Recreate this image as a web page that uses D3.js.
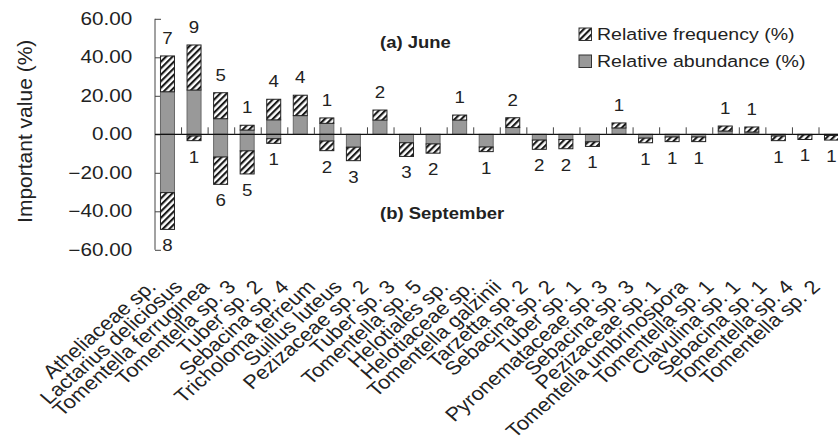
<!DOCTYPE html>
<html>
<head>
<meta charset="utf-8">
<script src="https://d3js.org/d3.v7.min.js"></script>
<style>
  body { margin: 0; background: #fff; }
  svg text { font-family: "Liberation Sans", Arial, sans-serif; fill: #222; }
</style>
</head>
<body>
<svg id="chart" width="838" height="447"></svg>
<script>
// species in plotting order
const species = ["Atheliaceae sp.", "Lactarius deliciosus", "Tomentella ferruginea", "Tomentella sp. 3",
  "Tuber sp. 2", "Sebacina sp. 4", "Tricholoma terreum", "Suillus luteus", "Pezizaceae sp. 2", "Tuber sp. 3",
  "Tomentella sp. 5", "Helotiales sp.", "Helotiaceae sp.", "Tomentella galzinii", "Tarzetta sp. 2",
  "Sebacina sp. 2", "Tuber sp. 1", "Pyronemataceae sp. 3", "Sebacina sp. 3", "Pezizaceae sp. 1",
  "Tomentella umbrinospora", "Tomentella sp. 1", "Clavulina sp. 1", "Sebacina sp. 1", "Tomentella sp. 4",
  "Tomentella sp. 2"];

// (a) June, drawn upward
const juneAbund = [22.1, 23.0, 8.1, 2.2, 7.5, 9.7, 5.7, 0, 7.4, 0, 0, 7.4, 0, 3.5, 0, 0, 0, 3.3, 0, 0, 0, 1.7, 1.2, 0, 0, 0];
const juneFreq = [18.6, 23.4, 13.5, 2.5, 10.7, 10.6, 2.8, 0, 5.2, 0, 0, 2.6, 0, 5.1, 0, 0, 0, 2.6, 0, 0, 0, 2.6, 2.6, 0, 0, 0];
const juneCount = [7, 9, 5, 1, 4, 4, 1, 0, 2, 0, 0, 1, 0, 2, 0, 0, 0, 1, 0, 0, 0, 1, 1, 0, 0, 0];

// (b) September, drawn downward
const septAbund = [30.3, 0.9, 11.8, 8.6, 2.3, 0, 3.5, 6.7, 0, 4.4, 5.0, 0, 6.6, 0, 3.0, 2.7, 3.9, 0, 2.0, 1.4, 1.4, 0, 0, 0.9, 0.3, 0.6];
const septFreq = [19.1, 2.4, 14.2, 12.0, 2.4, 0, 5.0, 7.0, 0, 7.1, 4.8, 0, 2.4, 0, 4.8, 4.8, 2.4, 0, 2.4, 2.4, 2.4, 0, 0, 2.4, 2.4, 2.4];
const septCount = [8, 1, 6, 5, 1, 0, 2, 3, 0, 3, 2, 0, 1, 0, 2, 2, 1, 0, 1, 1, 1, 0, 0, 1, 1, 1];

const yTicks = [-60, -40, -20, 0, 20, 40, 60];
const legendLabels = ["Relative frequency (%)", "Relative abundance (%)"];

const sx = 1.17; // text in the figure is a bit wide
const svg = d3.select("#chart");

const defs = svg.append("defs");
const pat = defs.append("pattern")
  .attr("id", "hatch")
  .attr("patternUnits", "userSpaceOnUse")
  .attr("width", 4.6).attr("height", 4.6)
  .attr("patternTransform", "rotate(45)");
pat.append("rect").attr("width", 4.6).attr("height", 4.6).attr("fill", "#fff");
pat.append("line").attr("x1", 1).attr("y1", 0).attr("x2", 1).attr("y2", 4.6)
  .attr("stroke", "#1a1a1a").attr("stroke-width", 2.3);

const y = d3.scaleLinear().domain([-60, 60]).range([249.8, 18.8]);
const x = d3.scaleBand().domain(species).range([155, 155 + 26.56 * species.length]).paddingInner(0).paddingOuter(0);
const barW = 14;

// y axis
const yAxis = d3.axisLeft(y).tickValues(yTicks).tickSize(-6).tickPadding(19.5)
  .tickFormat(d3.format(".2f"));
const gy = svg.append("g").attr("transform", "translate(155,0)").call(yAxis);
gy.select(".domain").attr("stroke", "#444").attr("d", "M0," + y(60) + "V" + y(-60));
gy.selectAll(".tick line").attr("stroke", "#444");
gy.selectAll(".tick text")
  .attr("font-size", 17.7)
  .attr("fill", "#222")
  .attr("transform", `scale(${sx},1)`);

svg.append("text")
  .attr("transform", `translate(32,${y(0) - 3}) rotate(-90)`)
  .attr("text-anchor", "middle")
  .attr("font-size", 21)
  .text("Important value (%)");

// bars
const g = svg.append("g");
species.forEach((s, i) => {
  const cx = x(s) + x.bandwidth() / 2 - 0.8;
  const segs = [];
  if (juneAbund[i] > 0) segs.push({ a: 0, b: juneAbund[i], hatch: false });
  if (juneFreq[i] > 0) segs.push({ a: juneAbund[i], b: juneAbund[i] + juneFreq[i], hatch: true });
  if (septAbund[i] > 0) segs.push({ a: 0, b: -septAbund[i], hatch: false });
  if (septFreq[i] > 0) segs.push({ a: -septAbund[i], b: -(septAbund[i] + septFreq[i]), hatch: true });
  segs.forEach(d => {
    g.append("rect")
      .attr("x", cx - barW / 2)
      .attr("width", barW)
      .attr("y", y(Math.max(d.a, d.b)))
      .attr("height", Math.abs(y(d.a) - y(d.b)))
      .attr("fill", d.hatch ? "url(#hatch)" : "#999")
      .attr("stroke", d.hatch ? "#222" : "#6a6a6a")
      .attr("stroke-width", 1);
  });
  if (juneCount[i] > 0) {
    svg.append("text")
      .attr("transform", `translate(${cx},${y(juneAbund[i] + juneFreq[i]) - 12}) scale(1.1,1)`)
      .attr("text-anchor", "middle")
      .attr("font-size", 17)
      .text(juneCount[i]);
  }
  if (septCount[i] > 0) {
    svg.append("text")
      .attr("transform", `translate(${cx},${y(-(septAbund[i] + septFreq[i])) + 22}) scale(1.1,1)`)
      .attr("text-anchor", "middle")
      .attr("font-size", 17)
      .text(septCount[i]);
  }
});

// category axis along zero
svg.append("line")
  .attr("x1", 155).attr("x2", 838)
  .attr("y1", y(0)).attr("y2", y(0))
  .attr("stroke", "#111").attr("stroke-width", 1.2);
species.slice(1).forEach(s => {
  svg.append("line")
    .attr("x1", x(s)).attr("x2", x(s))
    .attr("y1", y(0)).attr("y2", y(0) - 7)
    .attr("stroke", "#444");
});

// rotated species labels
species.forEach(s => {
  const cx = x(s) + x.bandwidth() / 2;
  svg.append("text")
    .attr("transform", `translate(${cx - 11},288) scale(1.15,1) rotate(-45)`)
    .attr("text-anchor", "end")
    .attr("font-size", 19)
    .text(s);
});

// season titles
svg.append("text")
  .attr("transform", `translate(380,48) scale(1.12,1)`)
  .attr("font-size", 16.5).attr("font-weight", "bold")
  .text("(a) June");
svg.append("text")
  .attr("transform", `translate(380,219) scale(1.12,1)`)
  .attr("font-size", 16.5).attr("font-weight", "bold")
  .text("(b) September");

// legend
legendLabels.forEach((t, i) => {
  const ly = 28 + i * 27;
  svg.append("rect")
    .attr("x", 579).attr("y", ly).attr("width", 12.5).attr("height", 12.5)
    .attr("fill", i === 0 ? "url(#hatch)" : "#999")
    .attr("stroke", "#333");
  svg.append("text")
    .attr("transform", `translate(597,${ly + 12}) scale(1.15,1)`)
    .attr("font-size", 17)
    .text(t);
});
</script>
</body>
</html>
